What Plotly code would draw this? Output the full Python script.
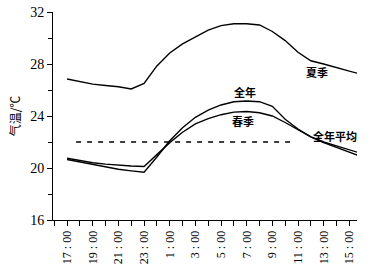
import plotly.graph_objects as go

hours = list(range(17, 41))  # 17:00 .. 16:00 next day (hourly)
tick_hours = [17, 19, 21, 23, 25, 27, 29, 31, 33, 35, 37, 39]
tick_labels = ["17 : 00", "19 : 00", "21 : 00", "23 : 00", "1 : 00", "3 : 00",
               "5 : 00", "7 : 00", "9 : 00", "11 : 00", "13 : 00", "15 : 00"]

summer = [26.85, 26.65, 26.45, 26.35, 26.25, 26.08, 26.5, 27.85, 28.85, 29.55,
          30.1, 30.6, 30.95, 31.1, 31.1, 31.0, 30.5, 29.8, 28.9, 28.25,
          28.0, 27.7, 27.45, 27.2]
annual = [20.65, 20.45, 20.25, 20.05, 19.9, 19.78, 19.67, 20.85, 22.1, 23.1,
          23.9, 24.45, 24.85, 25.1, 25.15, 25.1, 24.75, 23.75, 23.0, 22.4,
          22.0, 21.7, 21.4, 21.1]
spring = [20.75, 20.55, 20.4, 20.3, 20.2, 20.15, 20.12, 21.0, 21.95, 22.75,
          23.4, 23.8, 24.1, 24.3, 24.35, 24.25, 24.0, 23.5, 22.95, 22.4,
          21.95, 21.6, 21.2, 20.85]
mean_value = 22.0
mean_span = [17.7, 34.5]

fig = go.Figure()
line = dict(color="black", width=1.4)
fig.add_trace(go.Scatter(x=hours, y=summer, mode="lines", line=line))
fig.add_trace(go.Scatter(x=hours, y=annual, mode="lines", line=line))
fig.add_trace(go.Scatter(x=hours, y=spring, mode="lines", line=line))
fig.add_trace(go.Scatter(x=mean_span, y=[mean_value, mean_value], mode="lines",
                         line=dict(color="black", width=1.5, dash="5px,6px")))

cjk = "Noto Sans CJK SC"
ann_font = dict(family=cjk, size=11, color="black")
for txt, x, y in [("夏季", 36.5, 27.4), ("全年", 30.85, 25.85),
                  ("春季", 30.7, 23.6), ("全年平均", 37.85, 22.45)]:
    fig.add_annotation(x=x, y=y, text="<b>" + txt + "</b>", showarrow=False,
                       font=ann_font, xanchor="center", yanchor="middle")

fig.update_layout(
    width=377, height=272,
    margin=dict(l=53, r=20, t=12, b=52),
    paper_bgcolor="white", plot_bgcolor="white",
    showlegend=False,
    font=dict(family="Liberation Serif, " + cjk, color="black"),
)
fig.update_xaxes(
    range=[15.9, 39.6], showgrid=False, zeroline=False, automargin=False,
    showline=True, linecolor="black", linewidth=1,
    tickmode="array", tickvals=tick_hours, ticktext=tick_labels,
    ticks="outside", ticklen=5, tickwidth=1, tickcolor="black",
    tickangle=-90, tickfont=dict(family="Liberation Serif", size=12, color="black"),
    minor=dict(dtick=1, tick0=17, ticks="outside", ticklen=5, tickwidth=1, tickcolor="black"),
)
fig.update_yaxes(
    range=[16, 32], showgrid=False, zeroline=False, automargin=False,
    showline=True, linecolor="black", linewidth=1,
    tickmode="linear", tick0=16, dtick=4,
    ticks="outside", ticklen=5, tickwidth=1, tickcolor="black",
    tickfont=dict(family="Liberation Serif", size=14, color="black"),
    minor=dict(dtick=2, ticks="outside", ticklen=4, tickwidth=1, tickcolor="black"),
    title=dict(text="气温/℃", font=dict(family=cjk, size=12, color="black"), standoff=7),
)

fig.write_html("out.html", config={"displayModeBar": False},
               post_script="document.body.style.margin='0';document.body.style.padding='0';")
